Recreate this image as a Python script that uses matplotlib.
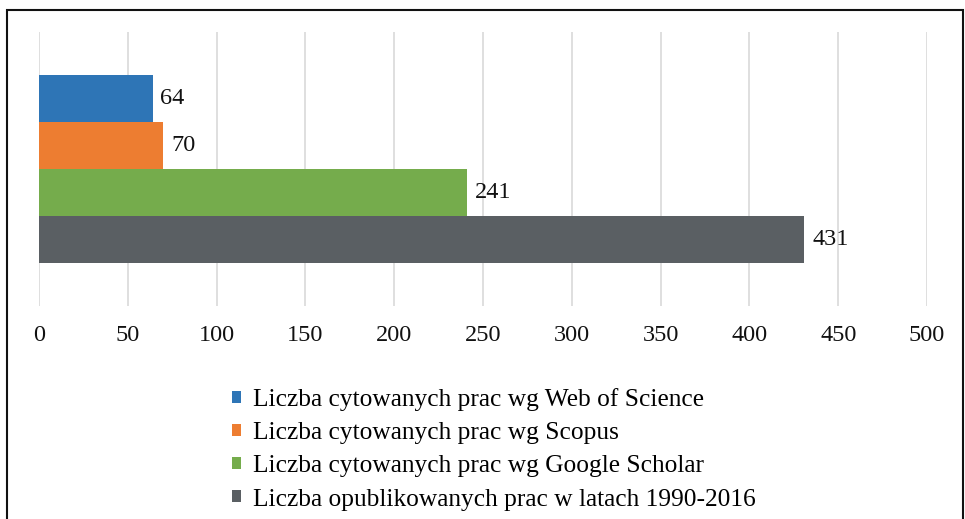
import matplotlib
matplotlib.use("Agg")
import matplotlib.pyplot as plt
from matplotlib.patches import Patch, Rectangle

# ── Data ────────────────────────────────────────────────────
LABELS = [
    "Liczba cytowanych prac wg Web of Science",
    "Liczba cytowanych prac wg Scopus",
    "Liczba cytowanych prac wg Google Scholar",
    "Liczba opublikowanych prac w latach 1990-2016",
]
VALUES = [64, 70, 241, 431]
COLORS = ["#2E75B6", "#ED7D31", "#75AC4C", "#5A5F63"]
XTICKS = [0, 50, 100, 150, 200, 250, 300, 350, 400, 450, 500]

FS = 17.5
plt.rcParams["font.family"] = ["Liberation Serif", "DejaVu Serif"]

fig = plt.figure(figsize=(9.65, 5.19), dpi=100)
ax = fig.add_axes([39 / 965, 1 - 306 / 519, 888 / 965, 274 / 519])

# bars stacked top to bottom: first series on top
ypos = [len(VALUES) - 1 - i for i in range(len(VALUES))]
for y, v, c, lab in zip(ypos, VALUES, COLORS, LABELS):
    bars = ax.barh(y, v, height=1.0, color=c, label=lab, zorder=3)
    ax.bar_label(bars, labels=[str(v)], padding=5.5, fontsize=FS, color="#111111")

ax.set_xlim(0, 500)
ax.set_ylim(-1.4, 4.4)
ax.set_xticks(XTICKS)
ax.set_yticks([])
ax.grid(axis="x", color="#D9D9D9", lw=1.2, zorder=0)
ax.tick_params(axis="x", length=0, pad=14, labelsize=FS, labelcolor="#111111")
for s in ax.spines.values():
    s.set_visible(False)

# legend below the plot
handles = [Patch(facecolor=c, edgecolor="none") for c in COLORS]
fig.legend(handles, LABELS, loc="upper left", bbox_to_anchor=(232 / 965, 1 - 388 / 519),
           frameon=False, fontsize=18.3, handlelength=0.34, handleheight=0.34,
           handletextpad=0.5, labelspacing=0.44, borderaxespad=0, borderpad=0)

# outer frame
fig.patches.append(Rectangle((7 / 965, -0.02), 956 / 965, 1 - 10 / 519 + 0.02,
                             transform=fig.transFigure, fill=False,
                             edgecolor="#111111", lw=1.5))

fig.savefig("out.png", dpi=100, facecolor="white")
